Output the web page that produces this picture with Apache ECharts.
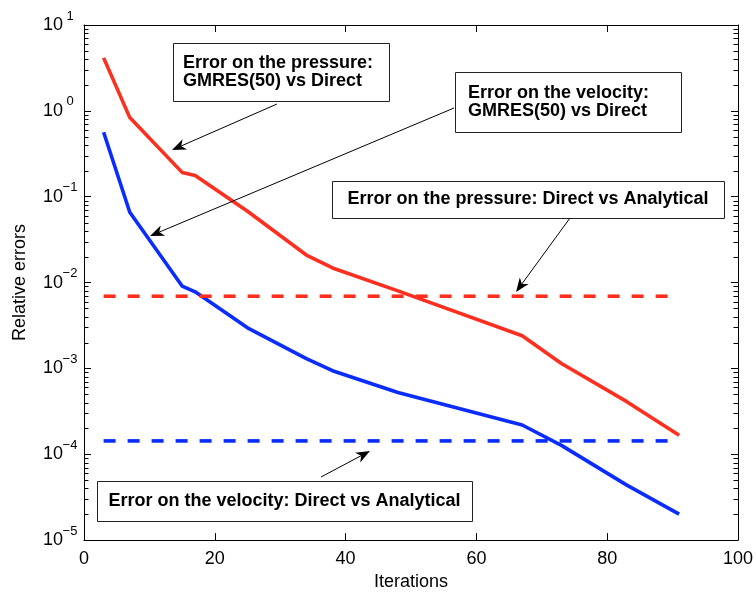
<!DOCTYPE html>
<html>
<head>
<meta charset="UTF-8">
<title>Relative errors</title>
<script src="https://cdn.jsdelivr.net/npm/echarts@6/dist/echarts.min.js"></script>
<style>
  html, body { margin: 0; padding: 0; background: #fff; }
  #main { width: 756px; height: 596px; }
</style>
</head>
<body>
<div id="main"></div>
<script>
// data
var iterations = [3, 7, 15, 17, 25, 34, 38, 48, 67, 73, 83, 91];
var pressureGmres = [4.14, 0.834, 0.192, 0.177, 0.0677, 0.0209, 0.0148, 0.0080, 0.0024, 0.00114, 0.00041, 0.000166];
var velocityGmres = [0.563, 0.066, 0.0091, 0.0078, 0.00297, 0.0013, 0.00094, 0.000525, 0.000219, 0.000127, 0.0000437, 0.0000201];
var directRange = [3, 91];
var pressureDirect = 0.00693;
var velocityDirect = 0.000143;
var decades = [-5, -4, -3, -2, -1, 0];
var minorFactors = [2, 3, 4, 5, 6, 7, 8, 9];

var RED = '#ff2f1f';
var BLUE = '#0a2cff';
var FONT = '"Liberation Sans", Arial, Helvetica, sans-serif';

var byId = function(id) {
  return document.getElementById(id);
};

function pairs(xs, ys) {
  return xs.map(function(x, i) { return [x, ys[i]]; });
}

function flat(v) {
  return directRange.map(function(x) { return [x, v]; });
}

function expLabel(v) {
  var e = Math.round(Math.log10(v));
  return '{b|10}{s|' + (e < 0 ? '\u2212' + (-e) : e) + '}';
}

// annotation boxes and arrows (pixels)
var boxes = [
  { x: 173, y: 43, w: 216, h: 58, lines: ['Error on the pressure:', 'GMRES(50) vs Direct'], tx: 183, align: 'left' },
  { x: 455, y: 72, w: 226, h: 60, lines: ['Error on the velocity:', 'GMRES(50) vs Direct'], tx: 468, align: 'left' },
  { x: 332, y: 181, w: 392, h: 37, lines: ['Error on the pressure: Direct vs Analytical'], tx: 528, align: 'center' },
  { x: 97, y: 481, w: 375, h: 40, lines: ['Error on the velocity: Direct vs Analytical'], tx: 284.5, align: 'center' }
];
var arrows = [
  { from: [277, 104], to: [172, 150] },
  { from: [454, 108], to: [150, 236] },
  { from: [570, 218], to: [516, 292] },
  { from: [321, 477], to: [370, 451] }
];

var graphics = [];
boxes.forEach(function(b) {
  graphics.push({
    type: 'rect', z: 100,
    shape: { x: b.x + 0.5, y: b.y + 0.5, width: b.w, height: b.h },
    style: { fill: '#fff', stroke: '#222', lineWidth: 1 }
  });
  var lh = 18;
  var top = b.y + b.h / 2 - (b.lines.length * lh) / 2;
  b.lines.forEach(function(t, i) {
    graphics.push({
      type: 'text', z: 101,
      x: b.tx, y: top + lh * i + lh / 2,
      style: {
        text: t, fill: '#000', font: 'bold 18px ' + FONT,
        align: b.align, verticalAlign: 'middle'
      }
    });
  });
});
arrows.forEach(function(a) {
  var dx = a.to[0] - a.from[0], dy = a.to[1] - a.from[1];
  var len = Math.sqrt(dx * dx + dy * dy);
  var ux = dx / len, uy = dy / len, nx = -uy, ny = ux;
  var L = 14, W = 5.5, N = 4;
  var tip = a.to;
  var bl = [tip[0] - L * ux + W * nx, tip[1] - L * uy + W * ny];
  var br = [tip[0] - L * ux - W * nx, tip[1] - L * uy - W * ny];
  var notch = [tip[0] - (L - N) * ux, tip[1] - (L - N) * uy];
  graphics.push({
    type: 'line', z: 100,
    shape: { x1: a.from[0], y1: a.from[1], x2: notch[0], y2: notch[1] },
    style: { stroke: '#000', lineWidth: 1 }
  });
  graphics.push({
    type: 'polygon', z: 100,
    shape: { points: [tip, bl, notch, br] },
    style: { fill: '#000' }
  });
});

var tickStyle = { show: true, inside: true, length: 7, lineStyle: { color: '#000', width: 1 } };
var lineStyleAxis = { show: true, onZero: false, lineStyle: { color: '#000', width: 1 } };

var option = {
  animation: false,
  backgroundColor: '#fff',
  grid: { left: 84, right: 17, top: 25, bottom: 54, containLabel: false },
  xAxis: [{
    type: 'value', min: 0, max: 100, interval: 20,
    name: 'Iterations', nameLocation: 'middle', nameGap: 31,
    nameTextStyle: { fontSize: 18, fontFamily: FONT, color: '#000' },
    axisLine: lineStyleAxis,
    axisTick: tickStyle,
    axisLabel: { fontSize: 18, fontFamily: FONT, color: '#000', margin: 10 },
    splitLine: { show: false }
  }, {
    type: 'value', min: 0, max: 100, interval: 20, position: 'top',
    axisLine: lineStyleAxis,
    axisTick: tickStyle,
    axisLabel: { show: false },
    splitLine: { show: false }
  }],
  yAxis: [{
    type: 'log', logBase: 10, min: 1e-5, max: 10,
    name: 'Relative errors', nameLocation: 'middle', nameGap: 55,
    nameTextStyle: { fontSize: 18, fontFamily: FONT, color: '#000' },
    axisLine: lineStyleAxis,
    axisTick: tickStyle,
    axisLabel: {
      margin: 7,
      formatter: expLabel,
      rich: {
        b: { fontSize: 18, fontFamily: FONT, color: '#000' },
        s: { fontSize: 13, fontFamily: FONT, color: '#000', padding: [0, 0, 18, 0], width: 14, align: 'left' }
      }
    },
    splitLine: { show: false }
  }, {
    type: 'log', logBase: 10, min: 1e-5, max: 10, position: 'right',
    axisLine: lineStyleAxis,
    axisTick: tickStyle,
    axisLabel: { show: false },
    splitLine: { show: false }
  }],
  series: [{
    name: 'Pressure GMRES(50) vs Direct',
    type: 'line', symbol: 'none', silent: true,
    data: pairs(iterations, pressureGmres),
    lineStyle: { color: RED, width: 3.6 }
  }, {
    name: 'Velocity GMRES(50) vs Direct',
    type: 'line', symbol: 'none', silent: true,
    data: pairs(iterations, velocityGmres),
    lineStyle: { color: BLUE, width: 3.6 }
  }, {
    name: 'Pressure Direct vs Analytical',
    type: 'line', symbol: 'none', silent: true,
    data: flat(pressureDirect),
    lineStyle: { color: RED, width: 3.6, type: [12, 12] }
  }, {
    name: 'Velocity Direct vs Analytical',
    type: 'line', symbol: 'none', silent: true,
    data: flat(velocityDirect),
    lineStyle: { color: BLUE, width: 3.6, type: [12, 12] }
  }]
};

var chart = echarts.init(byId('main'));
chart.setOption(option);

// minor log ticks (2..9 per decade) on left and right edges, placed through the y scale
var xl = chart.convertToPixel({ xAxisIndex: 0 }, 0);
var xr = chart.convertToPixel({ xAxisIndex: 0 }, 100);
decades.forEach(function(d) {
  minorFactors.forEach(function(m) {
    var y = Math.round(chart.convertToPixel({ yAxisIndex: 0 }, m * Math.pow(10, d))) + 0.5;
    graphics.push({
      type: 'line', z: 50, silent: true,
      shape: { x1: xl, y1: y, x2: xl + 4.5, y2: y },
      style: { stroke: '#000', lineWidth: 1 }
    });
    graphics.push({
      type: 'line', z: 50, silent: true,
      shape: { x1: xr - 4.5, y1: y, x2: xr, y2: y },
      style: { stroke: '#000', lineWidth: 1 }
    });
  });
});
chart.setOption({ graphic: graphics });
</script>
</body>
</html>
